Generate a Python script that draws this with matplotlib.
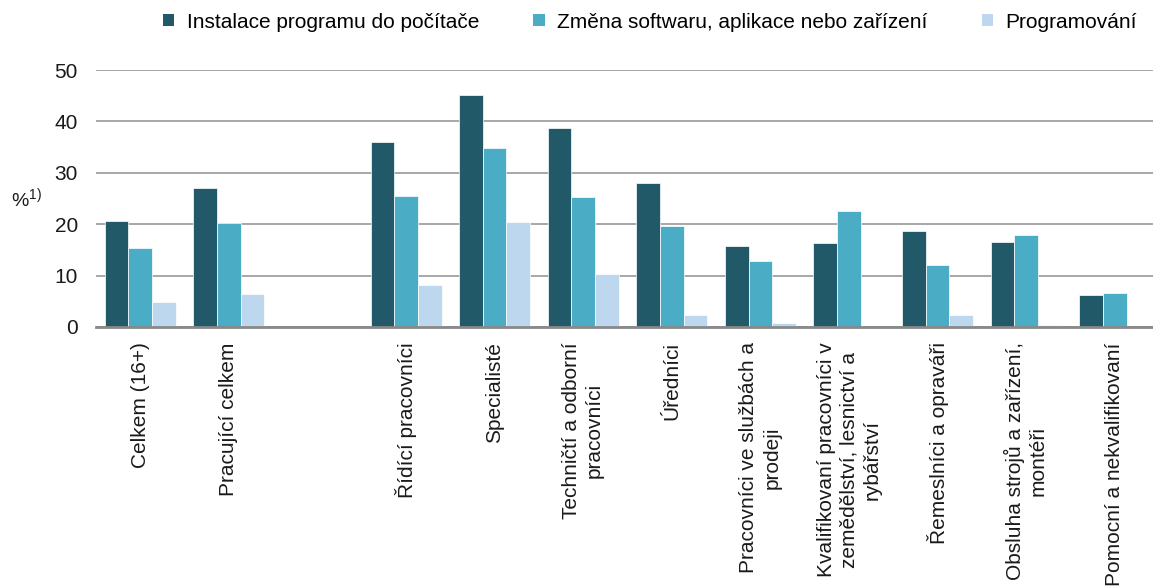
import numpy as np
import matplotlib.pyplot as plt
from matplotlib.patches import Patch

plt.rcParams['font.family'] = ['Liberation Sans', 'DejaVu Sans']
plt.rcParams['mathtext.fontset'] = 'custom'
plt.rcParams['mathtext.rm'] = 'Liberation Sans'

# kategorie (index 2 je prázdná mezera)
categories = [
    'Celkem (16+)',
    'Pracující celkem',
    '',
    'Řídící pracovníci',
    'Specialisté',
    'Techničtí a odborní\npracovníci',
    'Úředníci',
    'Pracovníci ve službách a\nprodeji',
    'Kvalifikovaní pracovníci v\nzemědělství, lesnictví a\nrybářství',
    'Řemeslníci a opraváři',
    'Obsluha strojů a zařízení,\nmontéři',
    'Pomocní a nekvalifikovaní',
]
series_names = ['Instalace programu do počítače',
                'Změna softwaru, aplikace nebo zařízení',
                'Programování']
instalace = [20.7, 27.0, np.nan, 36.0, 45.1, 38.8, 28.0, 15.7, 16.4, 18.7, 16.6, 6.3]
zmena = [15.3, 20.3, np.nan, 25.4, 34.8, 25.2, 19.7, 12.8, 22.6, 12.0, 17.9, 6.7]
programovani = [4.8, 6.4, np.nan, 8.1, 20.5, 10.3, 2.3, 0.8, np.nan, 2.3, 0.3, np.nan]
colors = ['#215968', '#4BACC6', '#BDD7EE']

fig = plt.figure(figsize=(11.53, 5.88), dpi=100)
ax = fig.add_axes([96 / 1153, 261 / 588, (1159 - 96) / 1153, 257 / 588])

x = np.arange(len(categories))
w = 0.267
for i, (vals, c) in enumerate(zip([instalace, zmena, programovani], colors)):
    ax.bar(x + (i - 1) * w, vals, width=w, color=c, edgecolor='white', linewidth=0.5, zorder=3)

ax.set_xlim(-0.5, len(categories) - 0.5)
ax.set_ylim(0, 50)
ax.set_yticks(range(0, 51, 10))
ax.yaxis.grid(True, color='#A0A0A0', linewidth=1.3, zorder=0)
ax.set_axisbelow(True)
for s in ['left', 'right', 'top']:
    ax.spines[s].set_visible(False)
ax.spines['bottom'].set_color('#898989')
ax.spines['bottom'].set_linewidth(2)
ax.spines['bottom'].set_zorder(4)
ax.tick_params(axis='y', length=0, pad=13, labelsize=15, labelcolor='#1a1a1a')
ax.tick_params(axis='x', length=0, pad=11)

ax.set_xticks(x)
ax.set_xticklabels(categories, rotation=90, ha='center', va='top',
                   multialignment='center', fontsize=15, color='#1a1a1a',
                   linespacing=1.25)

fig.text(11 / 1153, 1 - 199 / 588, r'%$^{\mathrm{1)}}$', fontsize=14,
         ha='left', va='center', color='#1a1a1a')

handles = [Patch(facecolor=c) for c in colors]
fig.legend(handles, series_names, loc='center', bbox_to_anchor=(650 / 1153, 1 - 22 / 588),
           ncol=3, frameon=False, fontsize=15, handlelength=0.53, handleheight=0.53,
           handletextpad=0.6, columnspacing=2.6)

plt.savefig('out.png', dpi=100)
